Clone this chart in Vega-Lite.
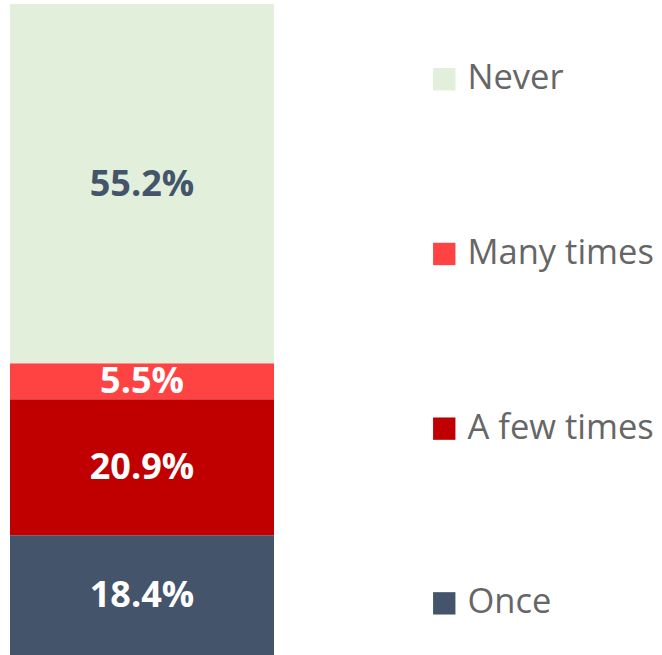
{
  "$schema": "https://vega.github.io/schema/vega-lite/v6.json",
  "autosize": {"type": "none"},
  "padding": {"left": 10, "top": 4, "right": 388, "bottom": 0},
  "width": 264,
  "height": 651,
  "background": "white",
  "config": {"view": {"stroke": null}, "font": "Open Sans"},
  "data": {
    "values": [
      {"cat": "Once", "value": 18.4, "label": "18.4%", "rank": 1},
      {"cat": "A few times", "value": 20.9, "label": "20.9%", "rank": 2},
      {"cat": "Many times", "value": 5.5, "label": "5.5%", "rank": 3},
      {"cat": "Never", "value": 55.2, "label": "55.2%", "rank": 4}
    ]
  },
  "transform": [
    {"stack": "value", "groupby": [], "sort": [{"field": "rank", "order": "ascending"}], "as": ["y0", "y1"]}
  ],
  "layer": [
    {
      "mark": {"type": "bar", "strokeWidth": 0},
      "encoding": {
        "x": {"datum": 0, "type": "quantitative", "scale": {"domain": [0, 1], "nice": false}, "axis": null},
        "x2": {"datum": 1},
        "y": {"field": "y0", "type": "quantitative", "scale": {"domain": [0, 100], "nice": false, "zero": true}, "axis": null},
        "y2": {"field": "y1"},
        "color": {
          "field": "cat",
          "type": "nominal",
          "scale": {
            "domain": ["Never", "Many times", "A few times", "Once"],
            "range": ["#E2EFDA", "#FF4343", "#C00000", "#44546A"]
          },
          "legend": {
            "title": null,
            "orient": "none",
            "legendX": 417,
            "legendY": 58,
            "padding": 0,
            "symbolType": "square",
            "symbolSize": 500,
            "symbolStrokeWidth": 0,
            "labelFontSize": 34.5,
            "labelColor": "#666666",
            "labelFont": "Open Sans",
            "labelOffset": 6,
            "rowPadding": 139.7,
            "labelLimit": 400
          }
        }
      }
    },
    {
      "transform": [
        {"fold": ["y0", "y1"], "as": ["edge", "pos"]},
        {"aggregate": [{"op": "mean", "field": "pos", "as": "mid"}], "groupby": ["cat", "label"]}
      ],
      "mark": {"type": "text", "fontSize": 36, "fontWeight": "bold", "font": "Open Sans", "baseline": "middle", "align": "center", "dy": 1},
      "encoding": {
        "x": {"datum": 0.5, "type": "quantitative"},
        "y": {"field": "mid", "type": "quantitative"},
        "text": {"field": "label"},
        "color": {"condition": {"test": "datum.cat === 'Never'", "value": "#44546A"}, "value": "#FFFFFF"}
      }
    }
  ]
}
